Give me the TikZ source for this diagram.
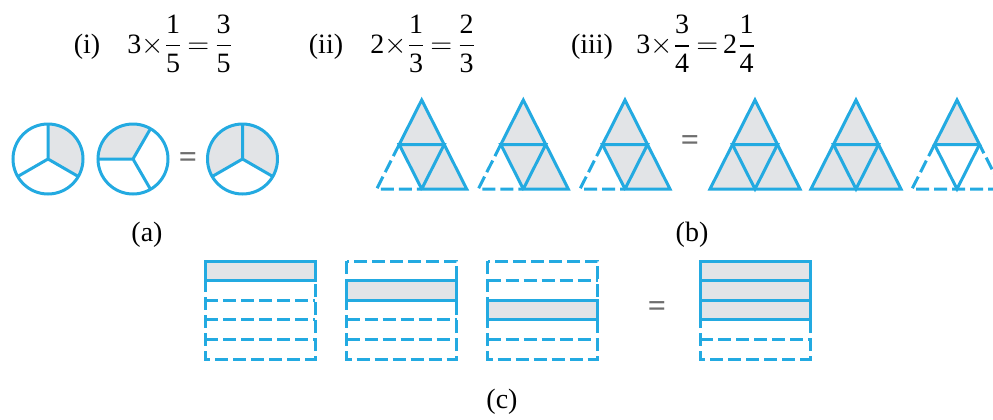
\documentclass[tikz,border=0pt]{standalone}
\usepackage{amsmath}
\usepackage{fontspec}
\setmainfont{Liberation Serif}
\definecolor{myblue}{RGB}{35,170,225}
\definecolor{shd}{RGB}{226,228,231}
\definecolor{eqgray}{RGB}{110,110,110}
\tikzset{
  bl/.style={draw=myblue, line width=1.5pt},
  dsh/.style={dash pattern=on 6.5pt off 2.5pt},
  eqn/.style={inner sep=0pt, font=\fontsize{14}{16}\selectfont},
  lbl/.style={inner sep=0pt, font=\fontsize{14}{16}\selectfont},
  eqsign/.style={inner sep=0pt, text=eqgray, font=\fontsize{16}{18}\selectfont\bfseries},
}
\newcommand\triStd[1]{%
  \fill[shd] (#1,100) -- (#1+45,189) -- (#1,189) -- (#1-22.5,144.5) -- cycle;
  \draw[bl] (#1-22.5,144.5) -- (#1,100) -- (#1+45,189) -- (#1,189) -- (#1-22.5,144.5) -- (#1+22.5,144.5) -- (#1,189);
  \draw[bl,dsh] (#1-22.5,144.5) -- (#1-45,189) -- (#1,189);
}
\newcommand\triFull[1]{%
  \filldraw[bl,fill=shd] (#1,100) -- (#1-45,189) -- (#1+45,189) -- cycle;
  \draw[bl] (#1-22.5,144.5) -- (#1+22.5,144.5) -- (#1,189) -- cycle;
}
\newcommand\triTop[1]{%
  \filldraw[bl,fill=shd] (#1,100) -- (#1-22.5,144.5) -- (#1+22.5,144.5) -- cycle;
  \draw[bl] (#1-22.5,144.5) -- (#1,189) -- (#1+22.5,144.5);
  \draw[bl,dsh] (#1-22.5,144.5) -- (#1-45,189) -- (#1+45,189) -- (#1+22.5,144.5);
}
\newcommand\rectFrame[1]{%
  \draw[bl,dsh] (#1,261) rectangle (#1+110,359);
  \foreach \i in {1,...,4} {\draw[bl,dsh] (#1,261+\i*19.6) -- (#1+110,261+\i*19.6);}
}
\newcommand\rectRow[2]{%
  \filldraw[bl,fill=shd] (#1,261+#2*19.6-19.6) rectangle (#1+110,261+#2*19.6);
}
\begin{document}
\begin{tikzpicture}[x=0.5pt,y=-0.5pt]
\useasboundingbox (0,0) rectangle (993,419);
\clip (0,0) rectangle (993,419);

% equations
\node[lbl] (l1) at (87,47) {(i)};
\node[eqn,anchor=west] (e1) at (127,44) {$\text{3}{\times}\dfrac{\text{1}}{\text{5}}\mkern3mu{=}\mkern3mu\dfrac{\text{3}}{\text{5}}$};
\node[lbl] (l2) at (326,47) {(ii)};
\node[eqn,anchor=west] (e2) at (370,44) {$\text{2}{\times}\dfrac{\text{1}}{\text{3}}\mkern3mu{=}\mkern3mu\dfrac{\text{2}}{\text{3}}$};
\node[lbl] (l3) at (592,47) {(iii)};
\node[eqn,anchor=west] (e3) at (636,44) {$\text{3}{\times}\dfrac{\text{3}}{\text{4}}\mkern3mu{=}\mkern3mu\text{2}\dfrac{\text{1}}{\text{4}}$};

% circles
\fill[shd] (48,159) -- +(-90:35) arc[start angle=-90,end angle=30,radius=35] -- cycle;
\draw[bl] (48,159) circle[radius=35];
\draw[bl] (48,159) -- +(-90:35) (48,159) -- +(150:35) (48,159) -- +(30:35);

\fill[shd] (133,159) -- +(-60:35) arc[start angle=-60,end angle=-180,radius=35] -- cycle;
\draw[bl] (133,159) circle[radius=35];
\draw[bl] (133,159) -- +(180:35) (133,159) -- +(-60:35) (133,159) -- +(60:35);

\node[eqsign] (q1) at (188,160) {=};

\fill[shd] (242.5,159) -- +(-210:35) arc[start angle=-210,end angle=30,radius=35] -- cycle;
\draw[bl] (242.5,159) circle[radius=35];
\draw[bl] (242.5,159) -- +(-90:35) (242.5,159) -- +(150:35) (242.5,159) -- +(30:35);

\node[lbl] (la) at (147,235) {(a)};

% triangles
\triStd{421.7}
\triStd{523.3}
\triStd{625}
\node[eqsign] (q2) at (690,143) {=};
\triFull{755}
\triFull{856}
\triTop{957}
\node[lbl] (lb) at (692,235) {(b)};

% rectangles
\rectFrame{205}
\rectRow{205}{1}
\rectFrame{346.7}
\rectRow{346.7}{2}
\rectFrame{487.7}
\rectRow{487.7}{3}
\node[eqsign] (q3) at (657,309) {=};
\rectFrame{700}
\rectRow{700}{1}
\rectRow{700}{2}
\rectRow{700}{3}
\node[lbl] (lc) at (502,402) {(c)};
\end{tikzpicture}
\end{document}
